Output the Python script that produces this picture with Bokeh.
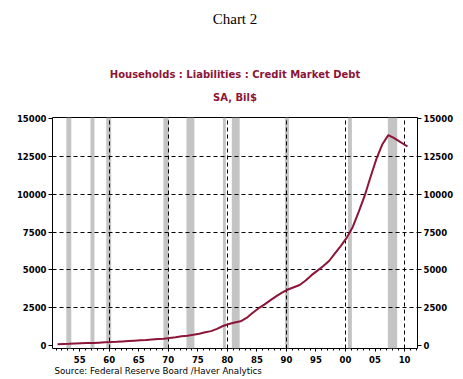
from bokeh.plotting import figure
from bokeh.models import LinearAxis, FixedTicker, BoxAnnotation, Range1d, Title
from bokeh.embed import file_html
from bokeh.resources import INLINE

# ---- data ----
years = [1952.0, 1953, 1954, 1955, 1956, 1957, 1958, 1959, 1960, 1961, 1962, 1963, 1964,
         1965, 1966, 1967, 1968, 1969, 1970, 1971, 1972, 1973, 1974, 1975, 1976, 1977,
         1978, 1979, 1980, 1981, 1982, 1983, 1984, 1985, 1986, 1987, 1988, 1989, 1990,
         1991, 1992, 1993, 1994, 1995, 1996, 1997, 1998, 1999, 2000, 2001, 2002, 2003,
         2004, 2005, 2006, 2007, 2008, 2009, 2010, 2011.25]
debt = [75, 95, 110, 130, 145, 160, 170, 190, 210, 225, 245, 270, 295,
        320, 345, 365, 395, 425, 450, 490, 545, 605, 650, 710, 780, 870,
        950, 1100, 1290, 1420, 1520, 1600, 1820, 2150, 2450, 2700, 2980, 3250, 3500,
        3700, 3850, 4000, 4300, 4650, 4950, 5250, 5600, 6100, 6600, 7150, 7850, 8850,
        9900, 11150, 12350, 13300, 13900, 13700, 13450, 13150]

rec_start = [1953.50, 1957.58, 1960.25, 1969.92, 1973.83, 1980.00, 1981.50, 1990.50, 2001.17, 2007.92]
rec_end = [1954.33, 1958.25, 1961.08, 1970.83, 1975.17, 1980.50, 1982.83, 1991.17, 2001.83, 2009.50]

x_label_years = [1955, 1960, 1965, 1970, 1975, 1980, 1985, 1990, 1995, 2000, 2005, 2010]
x_labels = ["55", "60", "65", "70", "75", "80", "85", "90", "95", "00", "05", "10"]
grid_years = [1960, 1970, 1980, 1990, 2000, 2010]
y_ticks = [0, 2500, 5000, 7500, 10000, 12500, 15000]
y_grid = [2500, 5000, 7500, 10000, 12500]

TICK_SHIFT = 0.75  # label positions sit late in each year on the reference axis

LINE_COLOR = "#8c1538"
TICK_FONT = "DejaVu Sans"

p = figure(frame_width=365, frame_height=231,
           x_range=Range1d(1951.15, 2012.94), y_range=Range1d(-198, 15066),
           output_backend="svg", toolbar_location=None,
           min_border_left=52, min_border_right=44, min_border_top=117, min_border_bottom=29,
           background_fill_color="white", border_fill_color="white")

p.outline_line_color = "black"
p.outline_line_width = 1
p.outline_line_alpha = 1

# recession shading
for s, e in zip(rec_start, rec_end):
    p.add_layout(BoxAnnotation(left=s, right=e, fill_color="#c4c4c4", fill_alpha=1.0,
                               line_color=None, level="image"))

# grids
p.xgrid.ticker = FixedTicker(ticks=[g + TICK_SHIFT for g in grid_years])
p.ygrid.ticker = FixedTicker(ticks=y_grid)
for g in (p.xgrid, p.ygrid):
    g.grid_line_color = "black"
    g.grid_line_dash = "4 3"
    g.grid_line_width = 1

# line
p.line(years, debt, line_color=LINE_COLOR, line_width=2)

# x axis
xt = [y + TICK_SHIFT for y in x_label_years]
minor = [y + TICK_SHIFT for y in range(1951, 2013)]
p.xaxis.ticker = FixedTicker(ticks=xt, minor_ticks=minor)
p.xaxis.major_label_overrides = {t: l for t, l in zip(xt, x_labels)}

# y axes
p.add_layout(LinearAxis(), "right")
for ax in p.yaxis:
    ax.ticker = FixedTicker(ticks=y_ticks)
    ax.major_label_overrides = {t: str(t) for t in y_ticks}
    ax.minor_tick_line_color = None

for ax in p.axis:
    ax.axis_line_color = None
    ax.major_tick_line_color = "black"
    ax.major_tick_out = 4
    ax.major_tick_in = 0
    ax.major_label_standoff = 2
    ax.major_label_text_font = TICK_FONT
    ax.major_label_text_font_style = "bold"
    ax.major_label_text_font_size = "8.5px"
    ax.major_label_text_color = "black"

p.xaxis.minor_tick_out = 2
p.xaxis.minor_tick_in = 0
p.xaxis.minor_tick_line_color = "black"
p.xaxis.major_tick_out = 3
p.xaxis.major_label_standoff = 4

# titles, stacked outward from the frame
p.add_layout(Title(text="SA, Bil$", align="center", vertical_align="top", standoff=25,
                   text_font="DejaVu Sans", text_font_style="bold", text_font_size="10px",
                   text_color=LINE_COLOR), "above")
p.add_layout(Title(text="Households : Liabilities : Credit Market Debt", align="center",
                   vertical_align="bottom", standoff=0,
                   text_font="DejaVu Sans", text_font_style="bold", text_font_size="10px",
                   text_color=LINE_COLOR), "above")
p.add_layout(Title(text=" ", standoff=37, text_font_size="1px"), "above")
p.add_layout(Title(text="Chart 2", align="center", vertical_align="bottom", standoff=0,
                   text_font="Liberation Serif", text_font_style="normal", text_font_size="15px",
                   text_color="black"), "above")

p.add_layout(Title(text="Source:  Federal Reserve Board /Haver Analytics", align="left",
                   vertical_align="top", standoff=0, offset=2,
                   text_font="DejaVu Sans", text_font_style="normal", text_font_size="8.7px",
                   text_color="black"), "below")

open("out.html", "w").write(file_html(p, INLINE))
